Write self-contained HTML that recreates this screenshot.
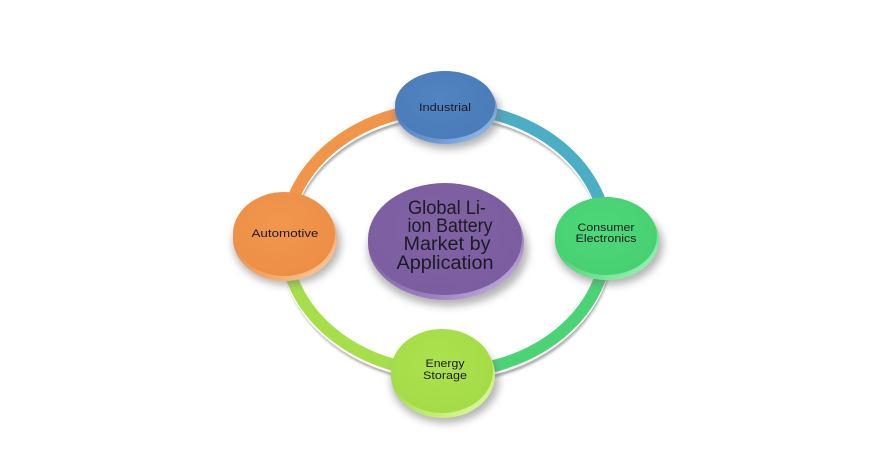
<!DOCTYPE html>
<html><head><meta charset="utf-8"><style>
html,body{margin:0;padding:0;background:#fff;}
svg{display:block;}
text{font-family:"Liberation Sans",sans-serif;fill:#1b1b22;}
</style></head><body>
<svg width="891" height="466" viewBox="0 0 891 466" xmlns="http://www.w3.org/2000/svg">
<defs>
<filter id="sb" x="-20%" y="-20%" width="140%" height="140%"><feGaussianBlur stdDeviation="1.3"/></filter>
<filter id="db" x="-30%" y="-30%" width="160%" height="160%"><feGaussianBlur stdDeviation="4"/></filter>
<linearGradient id="rimB" x1="0" y1="0" x2="1" y2="1"><stop offset="0" stop-color="#3f6aa3"/><stop offset="0.7" stop-color="#6d9bd6"/><stop offset="1" stop-color="#a9c8ee"/></linearGradient>
<linearGradient id="rimO" x1="0" y1="0" x2="1" y2="1"><stop offset="0" stop-color="#d97a33"/><stop offset="0.7" stop-color="#f6ad70"/><stop offset="1" stop-color="#fcd3ad"/></linearGradient>
<linearGradient id="rimG" x1="0" y1="0" x2="1" y2="1"><stop offset="0" stop-color="#33b85c"/><stop offset="0.7" stop-color="#72e595"/><stop offset="1" stop-color="#b5f3c8"/></linearGradient>
<linearGradient id="rimY" x1="0" y1="0" x2="1" y2="1"><stop offset="0" stop-color="#8cc62e"/><stop offset="0.7" stop-color="#c3ee74"/><stop offset="1" stop-color="#e6fbb8"/></linearGradient>
<linearGradient id="rimP" x1="0" y1="0" x2="1" y2="1"><stop offset="0" stop-color="#674a8a"/><stop offset="0.7" stop-color="#9e82c0"/><stop offset="1" stop-color="#d0c0e6"/></linearGradient>
<radialGradient id="fB" cx="0.45" cy="0.4" r="0.7"><stop offset="0" stop-color="#5184c2"/><stop offset="1" stop-color="#4a7ab8"/></radialGradient>
<radialGradient id="fO" cx="0.45" cy="0.4" r="0.7"><stop offset="0" stop-color="#f2974e"/><stop offset="1" stop-color="#ec8d44"/></radialGradient>
<radialGradient id="fG" cx="0.45" cy="0.4" r="0.7"><stop offset="0" stop-color="#4fd879"/><stop offset="1" stop-color="#45cf70"/></radialGradient>
<radialGradient id="fY" cx="0.45" cy="0.4" r="0.7"><stop offset="0" stop-color="#ade24f"/><stop offset="1" stop-color="#a2da45"/></radialGradient>
<radialGradient id="fP" cx="0.45" cy="0.4" r="0.7"><stop offset="0" stop-color="#8163a5"/><stop offset="1" stop-color="#7a5c9f"/></radialGradient>
</defs>

<!-- ring shadows -->
<g filter="url(#sb)" fill="none" stroke="#8a8a8a" stroke-width="10" opacity="0.75" transform="translate(1,6)">
<path d="M285,240 A161,132 0 0 1 446,108"/>
<path d="M446,108 A161,132 0 0 1 607,240"/>
<path d="M607,240 A161,132 0 0 1 446,372"/>
<path d="M446,372 A161,132 0 0 1 285,240"/>
</g>
<g fill="none" stroke="#ffffff" stroke-width="12" transform="translate(0,2.5)">
<path d="M285,240 A161,132 0 0 1 446,108"/>
<path d="M446,108 A161,132 0 0 1 607,240"/>
<path d="M607,240 A161,132 0 0 1 446,372"/>
<path d="M446,372 A161,132 0 0 1 285,240"/>
</g>
<g fill="none" stroke-width="12">
<path d="M285,240 A161,132 0 0 1 446,108" stroke="#f0954a"/>
<path d="M446,108 A161,132 0 0 1 607,240" stroke="#4baec5"/>
<path d="M607,240 A161,132 0 0 1 446,372" stroke="#4bd476"/>
<path d="M446,372 A161,132 0 0 1 285,240" stroke="#a6df4a"/>
</g>

<!-- center purple -->
<ellipse cx="448" cy="250" rx="80" ry="56" fill="#777" opacity="0.55" filter="url(#db)"/>
<ellipse cx="446" cy="243" rx="78" ry="57" fill="url(#rimP)"/>
<ellipse cx="445" cy="239" rx="77" ry="56" fill="url(#fP)"/>
<text x="447" y="214" font-size="19" text-anchor="middle" textLength="78" lengthAdjust="spacingAndGlyphs">Global Li-</text>
<text x="450" y="232" font-size="19" text-anchor="middle" textLength="85" lengthAdjust="spacingAndGlyphs">ion Battery</text>
<text x="447" y="250" font-size="19" text-anchor="middle" textLength="87" lengthAdjust="spacingAndGlyphs">Market by</text>
<text x="445" y="269" font-size="19" text-anchor="middle" textLength="97" lengthAdjust="spacingAndGlyphs">Application</text>

<!-- Industrial -->
<ellipse cx="448" cy="114" rx="53" ry="35" fill="#777" opacity="0.55" filter="url(#db)"/>
<ellipse cx="446" cy="109" rx="51" ry="35" fill="url(#rimB)"/>
<ellipse cx="445" cy="105" rx="50" ry="34" fill="url(#fB)"/>
<text x="445" y="111" font-size="11" text-anchor="middle" textLength="52" lengthAdjust="spacingAndGlyphs">Industrial</text>

<!-- Automotive -->
<ellipse cx="287" cy="243" rx="54" ry="42" fill="#777" opacity="0.55" filter="url(#db)"/>
<ellipse cx="285" cy="238" rx="52" ry="43" fill="url(#rimO)"/>
<ellipse cx="284" cy="234" rx="51" ry="42" fill="url(#fO)"/>
<text x="285" y="237" font-size="11" text-anchor="middle" textLength="67" lengthAdjust="spacingAndGlyphs">Automotive</text>

<!-- Consumer Electronics -->
<ellipse cx="609" cy="245" rx="54" ry="40" fill="#777" opacity="0.55" filter="url(#db)"/>
<ellipse cx="607" cy="240" rx="52" ry="40" fill="url(#rimG)"/>
<ellipse cx="606" cy="236" rx="51" ry="39" fill="url(#fG)"/>
<text x="606" y="231" font-size="11" text-anchor="middle" textLength="57" lengthAdjust="spacingAndGlyphs">Consumer</text>
<text x="606" y="242" font-size="11" text-anchor="middle" textLength="61" lengthAdjust="spacingAndGlyphs">Electronics</text>

<!-- Energy Storage -->
<ellipse cx="445" cy="381" rx="54" ry="42" fill="#777" opacity="0.55" filter="url(#db)"/>
<ellipse cx="443" cy="375" rx="52" ry="43" fill="url(#rimY)"/>
<ellipse cx="442" cy="371" rx="51" ry="42" fill="url(#fY)"/>
<text x="445" y="367" font-size="11" text-anchor="middle" textLength="39" lengthAdjust="spacingAndGlyphs">Energy</text>
<text x="445" y="379" font-size="11" text-anchor="middle" textLength="44" lengthAdjust="spacingAndGlyphs">Storage</text>
</svg>
</body></html>
